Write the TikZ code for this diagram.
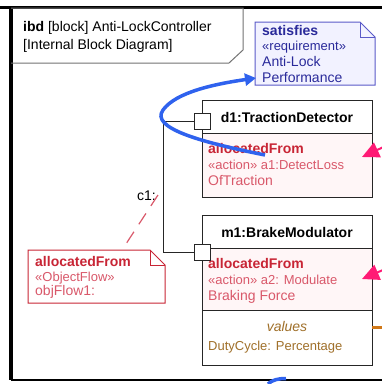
\documentclass[tikz,border=0pt]{standalone}
\usepackage{fontspec}
\setmainfont{Liberation Sans}
\usetikzlibrary{calc,arrows.meta}

\definecolor{allocred}{HTML}{C82535}
\definecolor{stereored}{HTML}{D9586A}
\definecolor{comppink}{HTML}{FFF6F7}
\definecolor{reqline}{HTML}{5A5AC8}
\definecolor{reqfill}{HTML}{F2F2FF}
\definecolor{reqtext}{HTML}{2A2A9A}
\definecolor{valtext}{HTML}{A0702A}
\definecolor{satblue}{HTML}{2F62EE}
\definecolor{tracepink}{HTML}{FF1A75}
\definecolor{flowamber}{HTML}{D07818}

\tikzset{
  lbl/.style={anchor=base west, inner sep=0pt, font=\fontsize{14}{16}\selectfont},
  stereo/.style={lbl, font=\fontsize{13}{16}\selectfont},
  blockbox/.style={draw=black!85, line width=1pt, fill=white},
  portbox/.style={draw=black!85, line width=1pt, fill=white, minimum width=16pt, minimum height=16pt, inner sep=0pt},
}

\begin{document}
\begin{tikzpicture}[x=1pt, y=-1pt]
			%%%%% START %%%%%
			\useasboundingbox (0,0) rectangle (382,384);
			\fill[white] (0,0) rectangle (382,384);

			% frame of the ibd
			\draw[line width=3.5pt] (0,7.5) -- (382,7.5);
			\draw[line width=3.5pt] (11,6) -- (11,380);
			\draw[line width=2.5pt] (11,380) -- (382,380);
			\draw[black!55, line width=1pt] (11,8) -- (243,8) -- (243,50) -- (229,63) -- (11,63);
			\node[lbl] (title1) at (23,31) {\textbf{ibd} [block] Anti-LockController};
			\node[lbl] (title2) at (23,49) {[Internal Block Diagram]};

			% satisfies note
			\draw[draw=reqline, fill=reqfill, line width=1pt] (255,22) -- (360,22) -- (375,37) -- (375,85) -- (255,85) -- cycle;
			\draw[draw=reqline, line width=1pt] (360,22) -- (360,37) -- (375,37);
			\coordinate (sat) at (256,78);
			\node[lbl, text=reqtext] (sat1) at (262,35) {\textbf{satisfies}};
			\node[stereo, text=reqtext] (sat2) at (262,50) {«requirement»};
			\node[lbl, text=reqtext] (sat3) at (262,66) {Anti-Lock};
			\node[lbl, text=reqtext] (sat4) at (262,82) {Performance};

			% d1 block
			\draw[blockbox] (202,100) rectangle (372,197);
			\draw[fill=comppink, draw=black!85, line width=1pt] (202,133) rectangle (372,197);
			\node[lbl, anchor=base] (d1) at (287,122) {\textbf{d1:TractionDetector}};
			\node[lbl, text=allocred] (d1a) at (208,153) {\textbf{allocatedFrom}};
			\node[stereo, text=stereored] (d1b) at (208,169) {«action» a1:DetectLoss};
			\node[lbl, text=stereored] (d1c) at (208,185) {OfTraction};
			\node[portbox] (d1p) at (202,121) {};

			% m1 block
			\draw[blockbox] (202,215) rectangle (372,365);
			\draw[fill=comppink, draw=black!85, line width=1pt] (202,248) rectangle (372,310);
			\node[lbl, anchor=base] (m1) at (287,237) {\textbf{m1:BrakeModulator}};
			\node[lbl, text=allocred] (m1a) at (208,268) {\textbf{allocatedFrom}};
			\node[stereo, text=stereored] (m1b) at (208,284) {«action» a2: Modulate};
			\node[lbl, text=stereored] (m1c) at (208,300) {Braking Force};
			\node[lbl, anchor=base, text=valtext] (vals) at (287,331) {\textit{values}};
			\node[stereo, text=valtext] (duty) at (208,350) {DutyCycle: Percentage};
			\node[portbox] (m1p) at (202,252) {};

			% connector c1
			\draw[black!85, line width=1pt] (d1p.west) -- ++(-30,0) |- (m1p.west);
			\node[lbl] (c1) at (137,200) {c1:};

			% allocatedFrom note of the flow
			\coordinate (c1tie) at (158,195);
			\draw[stereored, line width=1.2pt, dash pattern=on 13pt off 9pt] (c1tie) -- (122,250);
			\draw[draw=allocred, fill=white, line width=1pt] (28,250) -- (150,250) -- (165,265) -- (165,303) -- (28,303) -- cycle;
			\draw[draw=allocred, line width=1pt] (150,250) -- (150,265) -- (165,265);
			\node[lbl, text=allocred] (of1) at (35,266) {\textbf{allocatedFrom}};
			\node[stereo, text=stereored] (of2) at (35,281) {«ObjectFlow»};
			\node[lbl, text=stereored] (of3) at (35,295) {objFlow1:};

			% satisfy link
			\draw[satblue, line width=3.5pt, -{Triangle[length=11pt,width=12pt]}]
				(265,155) .. controls (200,142) and (150,128) .. (163,110)
				.. controls (176,92) and (215,84) .. (sat);

			% links leaving the view
			\coordinate (tr1) at (390,144);
			\coordinate (tr2) at (390,267);
			\draw[tracepink, line width=2pt, -{Triangle[length=17pt,width=16pt]}] (tr1) -- (362,157);
			\draw[tracepink, line width=2pt, -{Triangle[length=17pt,width=16pt]}] (tr2) -- (362,279);
			\draw[flowamber, line width=3pt] (372,327) -- (382,327);
			\draw[satblue, line width=3.5pt] (268,384) .. controls (272,380) and (278,378.5) .. (286,378.5);

			%%%%% END %%%%%
		\end{tikzpicture}
\end{document}
